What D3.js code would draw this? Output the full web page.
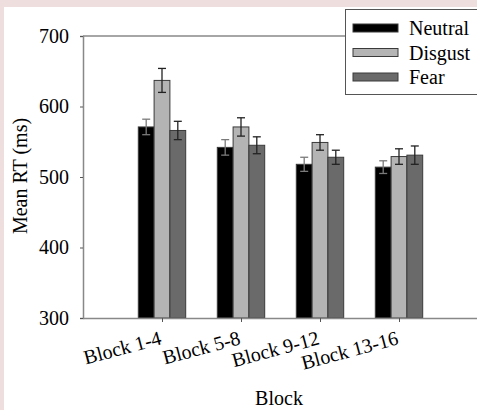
<!DOCTYPE html>
<html>
<head>
<meta charset="utf-8">
<script src="https://cdn.jsdelivr.net/npm/d3@7"></script>
<style>
  body { margin: 0; background: #efdede; }
  svg { display: block; }
  svg text { font-family: "Liberation Serif", "Times New Roman", Times, "DejaVu Serif", serif; fill: #000; }
</style>
</head>
<body>
<div id="chart"></div>
<script>
const categories = ["Block 1-4", "Block 5-8", "Block 9-12", "Block 13-16"];
const series = ["Neutral", "Disgust", "Fear"];
const neutral = [571, 542, 518, 514];
const disgust = [637, 571, 549, 529];
const fear = [566, 545, 528, 531];
const neutralSE = [11, 11, 10, 9];
const disgustSE = [17, 13, 11, 11];
const fearSE = [13, 12, 10, 13];
const yTicks = [300, 400, 500, 600, 700];

const colors = { Neutral: "#000000", Disgust: "#b4b4b4", Fear: "#6a6a6a" };
const errColors = { Neutral: "#7a7a7a", Disgust: "#222", Fear: "#222" };

const values = { Neutral: neutral, Disgust: disgust, Fear: fear };
const errors = { Neutral: neutralSE, Disgust: disgustSE, Fear: fearSE };

const width = 477, height = 410;
const plotLeft = 83, plotTop = 36, plotBottom = 318, plotRight = 478;
const serif = '"Liberation Serif", "Times New Roman", Times, serif';

const svg = d3.select("#chart").append("svg")
    .attr("width", width)
    .attr("height", height)
    .attr("font-family", serif);

// white panel on pink page
svg.append("rect").attr("x", 0).attr("y", 0).attr("width", width).attr("height", height).attr("fill", "#efdede");
svg.append("rect").attr("x", 4).attr("y", 7).attr("width", width - 4).attr("height", height - 7).attr("fill", "#fff");

const x = d3.scalePoint().domain(categories).range([plotLeft, plotRight]).padding(1);
const xs = d3.scaleBand().domain(series).range([-23.7, 23.7]);
const y = d3.scaleLinear().domain([300, 700]).range([plotBottom, plotTop]);

// frame top line
svg.append("line")
    .attr("x1", plotLeft).attr("x2", width)
    .attr("y1", y(700)).attr("y2", y(700))
    .attr("stroke", "#888").attr("stroke-width", 1.5);

// bars
const rows = [];
categories.forEach((c, i) => {
    series.forEach(s => {
        rows.push({ cat: c, s: s, v: values[s][i], e: errors[s][i] });
    });
});

svg.selectAll(".bar")
    .data(rows)
    .enter().append("rect")
    .attr("class", "bar")
    .attr("x", d => x(d.cat) + xs(d.s))
    .attr("y", d => y(d.v))
    .attr("width", xs.bandwidth())
    .attr("height", d => y(300) - y(d.v))
    .attr("fill", d => colors[d.s])
    .attr("stroke", "#3a3a3a")
    .attr("stroke-width", 1);

// error bars
const eb = svg.selectAll(".err")
    .data(rows)
    .enter().append("g")
    .attr("class", "err")
    .attr("stroke", d => errColors[d.s])
    .attr("stroke-width", 1.3);

const cx = d => x(d.cat) + xs(d.s) + xs.bandwidth() / 2;
eb.append("line")
    .attr("x1", cx).attr("x2", cx)
    .attr("y1", d => y(d.v + d.e)).attr("y2", d => y(d.v - d.e));
eb.append("line")
    .attr("x1", d => cx(d) - 4).attr("x2", d => cx(d) + 4)
    .attr("y1", d => y(d.v + d.e)).attr("y2", d => y(d.v + d.e));
eb.append("line")
    .attr("x1", d => cx(d) - 4).attr("x2", d => cx(d) + 4)
    .attr("y1", d => y(d.v - d.e)).attr("y2", d => y(d.v - d.e));

// y axis
const yAxis = svg.append("g")
    .attr("transform", `translate(${plotLeft},0)`)
    .call(d3.axisLeft(y).tickValues(yTicks).tickSize(3).tickPadding(11))
    .attr("font-family", serif)
    .attr("font-size", 20);
yAxis.select(".domain").attr("stroke", "#888").attr("stroke-width", 1.5);
yAxis.selectAll(".tick line").attr("stroke", "#555");
yAxis.selectAll(".tick text").attr("fill", "#000");

// x axis
const xAxis = svg.append("g")
    .attr("transform", `translate(0,${plotBottom})`)
    .call(d3.axisBottom(x).tickSize(4).tickSizeOuter(0))
    .attr("font-family", serif)
    .attr("font-size", 20);
xAxis.select(".domain").attr("stroke", "#888").attr("stroke-width", 1.5);
xAxis.selectAll(".tick line").attr("stroke", "#555");
xAxis.selectAll(".tick text")
    .attr("fill", "#000")
    .attr("text-anchor", "end")
    .attr("y", 0).attr("dy", 0)
    .attr("transform", "translate(0,26) rotate(-15)");

// axis titles
svg.append("text")
    .attr("x", 279).attr("y", 405)
    .attr("text-anchor", "middle")
    .attr("font-size", 20)
    .text("Block");

svg.append("text")
    .attr("transform", "translate(27,176) rotate(-90)")
    .attr("text-anchor", "middle")
    .attr("font-size", 20)
    .text("Mean RT (ms)");

// legend
const legend = svg.append("g");
legend.append("rect")
    .attr("x", 345.5).attr("y", 9.5)
    .attr("width", 140).attr("height", 85)
    .attr("fill", "#fff")
    .attr("stroke", "#555").attr("stroke-width", 1);

const li = legend.selectAll(".li")
    .data(series)
    .enter().append("g")
    .attr("class", "li")
    .attr("transform", (d, i) => `translate(0,${28 + i * 24.5})`);
li.append("rect")
    .attr("x", 353).attr("y", -4)
    .attr("width", 45).attr("height", 8)
    .attr("fill", d => colors[d])
    .attr("stroke", "#3a3a3a").attr("stroke-width", 1);
li.append("text")
    .attr("x", 409).attr("y", 7)
    .attr("font-size", 20)
    .text(d => d);
</script>
</body>
</html>
